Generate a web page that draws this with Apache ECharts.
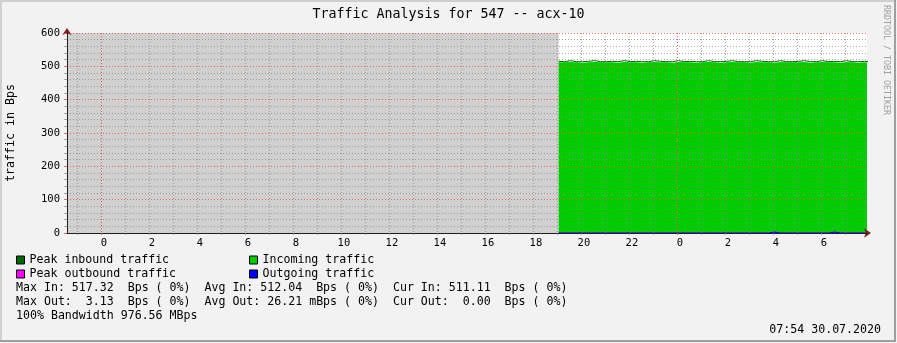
<!DOCTYPE html>
<html><head><meta charset="utf-8">
<script src="https://cdn.jsdelivr.net/npm/echarts@6/dist/echarts.min.js"></script>
<style>html,body{margin:0;padding:0;background:#f2f2f2}#c{width:897px;height:343px}</style>
</head><body><div id="c"></div>
<script>
// ---- data (hours measured from midnight 29.07.2020) ----
const chartTitle = 'Traffic Analysis for 547 -- acx-10';
const yAxisTitle = 'traffic in Bps';
const creditText = 'RRDTOOL / TOBI OETIKER';
const timeStart = -1.433;   // 22:34 on 28.07
const timeEnd = 31.9;       // 07:54 on 30.07
const dataStart = 19.05;    // first known sample
const sampleStep = 0.25;    // 15 minutes
const unknownValue = 600;   // "no data" band fills the whole canvas
const yMax = 600;
const yStep = 100;
const xLabelHours = [0,2,4,6,8,10,12,14,16,18,20,22,24,26,28,30];
const hourGrid = [-1,0,1,2,3,4,5,6,7,8,9,10,11,12,13,14,15,16,17,18,19,20,21,22,23,24,25,26,27,28,29,30,31];
const midnightGrid = [0,24];
const peakIn = [515,514,517,514,514,515,517,514,514,515,
                514,517,514,515,514,514,517,515,514,514,
                517,514,515,514,514,517,514,514,515,517,
                514,514,514,517,515,514,514,517,514,514,
                515,517,514,514,517,514,515,514,517,514,
                514,515,514];
const incoming = [512,512,513,512,511,512,513,512,512,512,
                  511,513,512,512,511,512,513,512,512,511,
                  513,512,512,511,512,513,512,511,512,513,
                  512,512,511,513,512,512,511,513,512,512,
                  512,513,511,512,513,512,512,511,513,512,
                  511,512,511];
const peakOut = [0,0,0,0,0,0,0,0,0,0,
                 0,0,0,0,0,0,0,0,0,0,
                 0,0,0,0,0,0,0,0,0,0,
                 0,0,0,0,0,0,3.13,0,0,0,
                 0,0,0,0,0,0,2.8,0,0,0,
                 0,0,0];
const outgoing = [0,0,0,0,0,0,0,0,0,0,
                  0,0,0,0,0,0,0,0,0,0,
                  0,0,0,0,0,0,0,0,0,0,
                  0,0,0,0,0,0,2.9,0,0,0,
                  0,0,0,0,0,0,2.5,0,0,0,
                  0,0,0];
const seriesNames = ['Peak inbound traffic','Incoming traffic','Peak outbound traffic','Outgoing traffic'];
const statLines = [
  'Max In: 517.32  Bps ( 0%)  Avg In: 512.04  Bps ( 0%)  Cur In: 511.11  Bps ( 0%)',
  'Max Out:  3.13  Bps ( 0%)  Avg Out: 26.21 mBps ( 0%)  Cur Out:  0.00  Bps ( 0%)',
  '100% Bandwidth 976.56 MBps'
];
const timestampText = '07:54 30.07.2020';

// ---- styling ----
const MONO = '"DejaVu Sans Mono", monospace';
const GRID_C = 'rgba(135,135,135,0.7)';
const MGRID_C = 'rgba(222,79,79,0.8)';
const AXIS_C = '#1f1f1f';
const ARROW_C = '#801f1f';
const DOT = [1,2];

const times = incoming.map((_, i) => dataStart + i * sampleStep);
const pair = arr => arr.map((v, i) => [times[i], v]);

const chart = echarts.init(document.getElementById('c'));

function legendAt(name, left, top) {
  return {
    data: [name], left: left, top: top, padding: 0, icon: 'rect',
    itemWidth: 8, itemHeight: 8, selectedMode: false,
    itemStyle: { borderColor: '#000', borderWidth: 1 },
    textStyle: { fontFamily: MONO, fontSize: 11.6, color: '#000', lineHeight: 14 }
  };
}

const option = {
  animation: false,
  backgroundColor: '#f2f2f2',
  title: {
    text: chartTitle, left: 'center', top: 3,
    textStyle: { fontFamily: MONO, fontSize: 13.3, fontWeight: 'normal', color: '#000' }
  },
  legend: [
    legendAt(seriesNames[0], 16, 253),
    legendAt(seriesNames[1], 249, 253),
    legendAt(seriesNames[2], 16, 267),
    legendAt(seriesNames[3], 249, 267)
  ],
  grid: {
    left: 67, top: 33, width: 800, height: 200,
    show: true, backgroundColor: '#ffffff', borderWidth: 0,
    containLabel: false, outerBoundsMode: 'none'
  },
  xAxis: [
    {
      type: 'value', position: 'bottom', min: timeStart, max: timeEnd, z: 3,
      axisLine: { show: true, onZero: false, lineStyle: { color: AXIS_C, width: 1 } },
      axisTick: { show: true, customValues: hourGrid, length: 2, lineStyle: { color: GRID_C } },
      axisLabel: {
        customValues: xLabelHours, margin: 5, padding: [0, 0, 0, 5],
        formatter: v => String(((Math.round(v) % 24) + 24) % 24),
        fontFamily: MONO, fontSize: 10.5, color: '#000'
      },
      splitLine: { show: true, lineStyle: { color: GRID_C, width: 1, type: DOT } }
    },
    {
      type: 'value', position: 'bottom', min: timeStart, max: timeEnd, z: 4,
      axisLine: { show: false },
      axisTick: { show: true, customValues: midnightGrid, length: 2, lineStyle: { color: MGRID_C } },
      axisLabel: { show: false },
      splitLine: { show: true, lineStyle: { color: MGRID_C, width: 1, type: DOT } }
    },
    {
      type: 'value', position: 'bottom', min: timeStart, max: timeEnd, z: 2,
      axisLine: { show: true, onZero: false, symbol: ['none', 'arrow'], symbolSize: [7, 7], symbolOffset: [0, 4],
        lineStyle: { color: ARROW_C, width: 1 } },
      axisTick: { show: false }, axisLabel: { show: false }, splitLine: { show: false }
    }
  ],
  yAxis: [
    {
      type: 'value', position: 'left', min: 0, max: yMax, interval: yStep, z: 3,
      name: yAxisTitle, nameLocation: 'middle', nameRotate: 90, nameGap: 50,
      nameTextStyle: { fontFamily: MONO, fontSize: 11.6, color: '#000' },
      axisLine: { show: true, onZero: false, lineStyle: { color: AXIS_C, width: 1 } },
      axisTick: { show: true, length: 3, lineStyle: { color: MGRID_C } },
      minorTick: { show: true, splitNumber: 5, length: 3, lineStyle: { color: GRID_C } },
      axisLabel: { margin: 7, padding: [3, 0, 0, 0], fontFamily: MONO, fontSize: 10.5, color: '#000' },
      splitLine: { show: true, lineStyle: { color: MGRID_C, width: 1, type: DOT } },
      minorSplitLine: { show: true, lineStyle: { color: GRID_C, width: 1, type: DOT } }
    },
    {
      type: 'value', position: 'left', offset: 0, min: 0, max: yMax, z: 2,
      axisLine: { show: true, onZero: false, symbol: ['none', 'arrow'], symbolSize: [7, 7], symbolOffset: [0, 5],
        lineStyle: { color: ARROW_C, width: 1 } },
      axisTick: { show: false }, axisLabel: { show: false }, splitLine: { show: false }
    }
  ],
  series: [
    {
      name: 'unknown', type: 'line', xAxisIndex: 0, yAxisIndex: 0, silent: true, z: 1,
      data: [[timeStart, unknownValue], [dataStart, unknownValue]],
      symbol: 'none', lineStyle: { width: 0 }, areaStyle: { color: '#d0d0d0', opacity: 1 }
    },
    {
      name: seriesNames[1], type: 'line', step: 'start', data: pair(incoming), z: 2,
      symbol: 'none', color: '#00cc00', itemStyle: { color: '#00cc00' },
      lineStyle: { width: 0 }, areaStyle: { color: '#00cc00', opacity: 1 }
    },
    {
      name: seriesNames[0], type: 'line', step: 'start', data: pair(peakIn), z: 2,
      symbol: 'none', color: '#006600', itemStyle: { color: '#006600' },
      lineStyle: { width: 1, color: '#006600' }
    },
    {
      name: seriesNames[2], type: 'line', step: 'start', data: pair(peakOut), z: 2,
      symbol: 'none', color: '#ff00ff', itemStyle: { color: '#ff00ff' },
      lineStyle: { width: 1, color: '#ff00ff' }
    },
    {
      name: seriesNames[3], type: 'line', step: 'start', data: pair(outgoing), z: 2,
      symbol: 'none', color: '#0000ff', itemStyle: { color: '#0000ff' },
      lineStyle: { width: 1, color: '#0000ff' }, areaStyle: { color: '#0000ff', opacity: 1 }
    }
  ],
  graphic: [
    { type: 'polyline', silent: true, shape: { points: [[1, 342], [1, 1], [896, 1]] },
      style: { stroke: '#cfcfcf', lineWidth: 2, fill: null } },
    { type: 'polyline', silent: true, shape: { points: [[0, 341], [895, 341], [895, 0]] },
      style: { stroke: '#9e9e9e', lineWidth: 2, fill: null } },
    { type: 'text', silent: true, x: 886, y: 5, rotation: -Math.PI / 2,
      style: { text: creditText, font: '8.3px ' + MONO, fill: '#a0a0a0', textAlign: 'left', textVerticalAlign: 'middle' } },
    { type: 'text', silent: true, x: 16, y: 288,
      style: { text: statLines[0], font: '11.6px ' + MONO, fill: '#000', textVerticalAlign: 'middle' } },
    { type: 'text', silent: true, x: 16, y: 302,
      style: { text: statLines[1], font: '11.6px ' + MONO, fill: '#000', textVerticalAlign: 'middle' } },
    { type: 'text', silent: true, x: 16, y: 316,
      style: { text: statLines[2], font: '11.6px ' + MONO, fill: '#000', textVerticalAlign: 'middle' } },
    { type: 'text', silent: true, x: 881, y: 330,
      style: { text: timestampText, font: '11.6px ' + MONO, fill: '#000', textAlign: 'right', textVerticalAlign: 'middle' } }
  ]
};
chart.setOption(option);
</script></body></html>
